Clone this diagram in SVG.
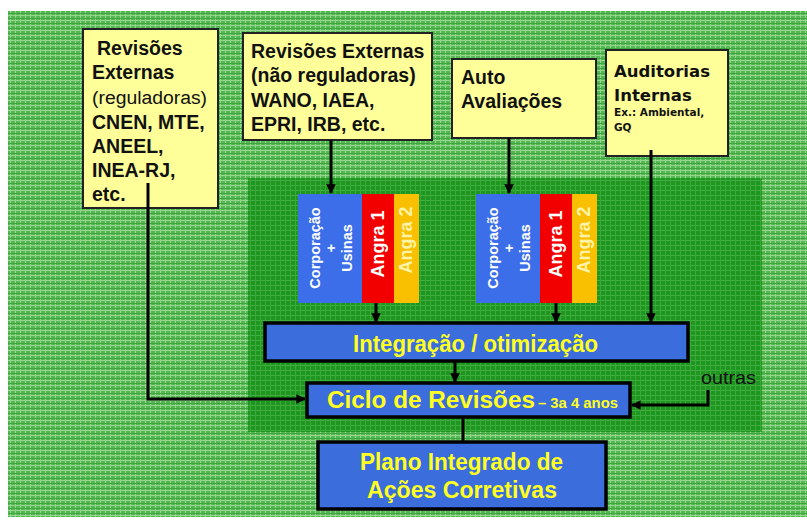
<svg xmlns="http://www.w3.org/2000/svg" width="807" height="520" viewBox="0 0 807 520">
<defs>
<pattern id="plaid" width="5" height="5" patternUnits="userSpaceOnUse">
<rect width="5" height="5" fill="#55b855"/>
<rect width="5" height="1" fill="#93d68c"/>
<rect width="1" height="5" fill="#93d68c"/>
<rect y="3" width="5" height="1" fill="#3fa63f"/>
</pattern>
<pattern id="plaidDark" width="5" height="5" patternUnits="userSpaceOnUse">
<rect width="5" height="5" fill="#1f961f"/>
<rect width="5" height="1" fill="#3fae3f"/>
<rect width="1" height="5" fill="#3aa83a"/>
</pattern>
<marker id="arr" viewBox="0 0 10 10" refX="9" refY="5" markerWidth="3.2" markerHeight="3.2" orient="auto">
<path d="M0,0 L10,5 L0,10 z" fill="#000"/>
</marker>
</defs>
<style>
.note{fill:#ffff99;stroke:#222;stroke-width:2}
.blue{fill:#3b6ddc;stroke:#000;stroke-width:3.5}
.t{font-family:"Liberation Sans",Arial,sans-serif;font-weight:bold;fill:#111}
.d{font-family:"DejaVu Sans",Verdana,sans-serif;font-weight:bold;fill:#111}
.n{font-family:"Liberation Sans",Arial,sans-serif;fill:#111}
.y{font-family:"Liberation Sans",Arial,sans-serif;font-weight:bold;fill:#ffff22}
.v{font-family:"Liberation Sans",Arial,sans-serif;font-weight:bold;fill:#fff}
.c{fill:none;stroke:#000;stroke-width:3}
</style>
<rect x="0" y="0" width="807" height="520" fill="#fff"/>
<rect x="8" y="11" width="799" height="506" fill="url(#plaid)"/>
<rect x="248" y="178" width="514" height="254" fill="url(#plaidDark)"/>

<g id="box-regulatory">
<rect class="note" x="83" y="29" width="135" height="179"/>
<text class="t" font-size="19.5" x="97" y="55">Revisões</text>
<text class="t" font-size="19.5" x="92" y="79">Externas</text>
<text class="n" font-size="18" x="92" y="104" textLength="115" lengthAdjust="spacingAndGlyphs">(reguladoras)</text>
<text class="t" font-size="19.5" x="92" y="129">CNEN, MTE,</text>
<text class="t" font-size="19.5" x="92" y="153">ANEEL,</text>
<text class="t" font-size="19.5" x="92" y="177">INEA-RJ,</text>
<text class="t" font-size="19.5" x="92" y="201">etc.</text>
</g>

<g id="box-nonregulatory">
<rect class="note" x="243" y="33" width="189" height="107"/>
<text class="t" font-size="19.5" x="251" y="58">Revisões Externas</text>
<text class="t" font-size="19.5" x="251" y="82">(não reguladoras)</text>
<text class="t" font-size="19.5" x="251" y="107">WANO, IAEA,</text>
<text class="t" font-size="19.5" x="251" y="131">EPRI, IRB, etc.</text>
</g>

<g id="box-auto">
<rect class="note" x="452" y="59" width="144" height="79"/>
<text class="t" font-size="19.5" x="461" y="84">Auto</text>
<text class="t" font-size="19.5" x="461" y="108">Avaliações</text>
</g>

<g id="box-auditorias">
<rect class="note" x="606" y="50" width="122" height="106"/>
<text class="d" font-size="16.5" x="614" y="77">Auditorias</text>
<text class="d" font-size="16.5" x="614" y="101">Internas</text>
<text class="d" font-size="10.5" x="614" y="116">Ex.: Ambiental,</text>
<text class="d" font-size="10.5" x="614" y="131">GQ</text>
</g>

<g id="column-1">
<rect x="298" y="194" width="64" height="109" fill="#3b6ee8"/>
<rect x="362" y="194" width="32" height="109" fill="#f20000"/>
<rect x="394" y="194" width="25" height="109" fill="#f8c000"/>
<text class="v" font-size="14.5" text-anchor="middle" dominant-baseline="central" transform="translate(315,248) rotate(-90)">Corporação</text>
<text class="v" font-size="14.5" text-anchor="middle" dominant-baseline="central" transform="translate(331,248) rotate(-90)">+</text>
<text class="v" font-size="14.5" text-anchor="middle" dominant-baseline="central" transform="translate(347,248) rotate(-90)">Usinas</text>
<text class="v" font-size="18" text-anchor="middle" dominant-baseline="central" transform="translate(378,244) rotate(-90)">Angra 1</text>
<text class="v" font-size="18" text-anchor="middle" dominant-baseline="central" style="fill:#fff3a8" transform="translate(406,240) rotate(-90)">Angra 2</text>
</g>

<g id="column-2">
<rect x="476" y="194" width="64" height="109" fill="#3b6ee8"/>
<rect x="540" y="194" width="32" height="109" fill="#f20000"/>
<rect x="572" y="194" width="25" height="109" fill="#f8c000"/>
<text class="v" font-size="14.5" text-anchor="middle" dominant-baseline="central" transform="translate(493,248) rotate(-90)">Corporação</text>
<text class="v" font-size="14.5" text-anchor="middle" dominant-baseline="central" transform="translate(509,248) rotate(-90)">+</text>
<text class="v" font-size="14.5" text-anchor="middle" dominant-baseline="central" transform="translate(525,248) rotate(-90)">Usinas</text>
<text class="v" font-size="18" text-anchor="middle" dominant-baseline="central" transform="translate(556,244) rotate(-90)">Angra 1</text>
<text class="v" font-size="18" text-anchor="middle" dominant-baseline="central" style="fill:#fff3a8" transform="translate(584,240) rotate(-90)">Angra 2</text>
</g>

<g id="box-integracao">
<rect class="blue" x="265" y="323" width="423" height="38"/>
<text class="y" font-size="23" x="353" y="352" textLength="245" lengthAdjust="spacingAndGlyphs">Integração / otimização</text>
</g>

<g id="box-ciclo">
<rect class="blue" x="307" y="383" width="323" height="34"/>
<text class="y" font-size="23" x="327" y="408" textLength="208" lengthAdjust="spacingAndGlyphs">Ciclo de Revisões</text>
<text class="y" font-size="15" x="538" y="408" textLength="80" lengthAdjust="spacingAndGlyphs">– 3a 4  anos</text>
</g>

<g id="box-plano">
<rect class="blue" x="318" y="442" width="288" height="67"/>
<text class="y" font-size="23" x="360" y="470" textLength="203" lengthAdjust="spacingAndGlyphs">Plano Integrado de</text>
<text class="y" font-size="23" x="367" y="498" textLength="190" lengthAdjust="spacingAndGlyphs">Ações Corretivas</text>
</g>

<g id="label-outras">
<text class="n" font-size="18" x="701" y="384" textLength="55" lengthAdjust="spacingAndGlyphs">outras</text>
</g>

<g id="connectors">
<path class="c" d="M148,183 V399 H305" stroke-width="2.5" marker-end="url(#arr)"/>
<path class="c" d="M331,140 V193" marker-end="url(#arr)"/>
<path class="c" d="M509,138 V193" marker-end="url(#arr)"/>
<path class="c" d="M651,150 V322" marker-end="url(#arr)"/>
<path class="c" d="M376,303 V322" marker-end="url(#arr)"/>
<path class="c" d="M556,303 V322" marker-end="url(#arr)"/>
<path class="c" d="M455,361 V382" marker-end="url(#arr)"/>
<path class="c" d="M708,390 V405 H632" marker-end="url(#arr)"/>
<path class="c" d="M463,417 V441"/>
</g>
</svg>
